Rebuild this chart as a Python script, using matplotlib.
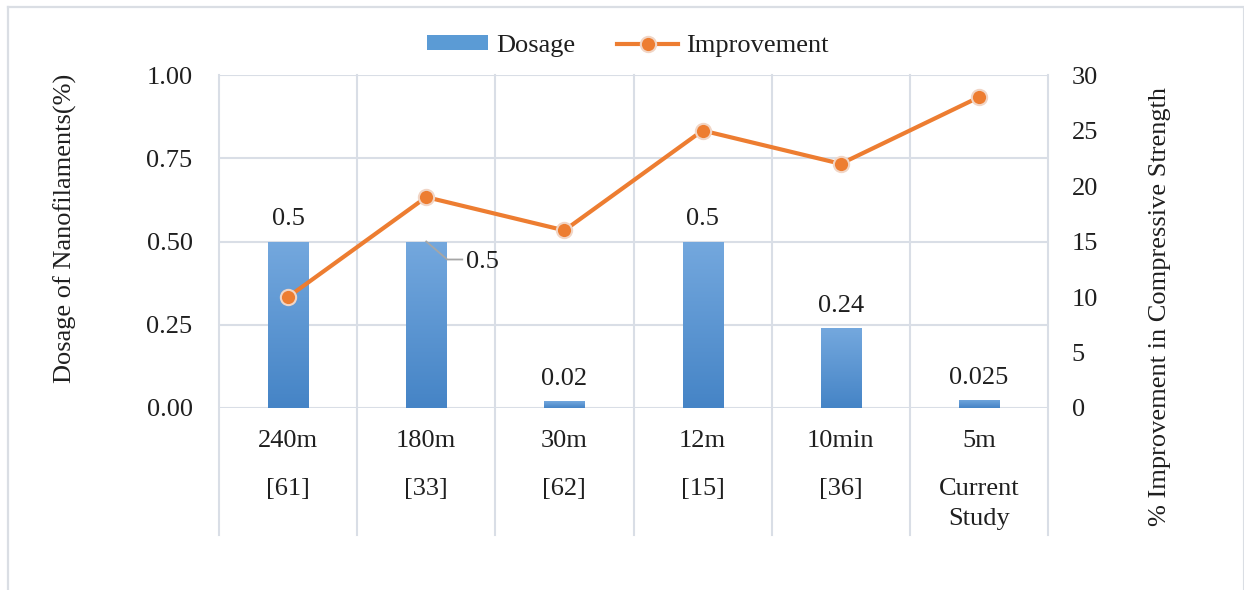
import matplotlib
matplotlib.use('Agg')
import matplotlib.pyplot as plt
import numpy as np
from matplotlib.lines import Line2D
from matplotlib.patches import Patch
from matplotlib.colors import LinearSegmentedColormap
import matplotlib.transforms as mtransforms

# Chart data
durations = ['240m', '180m', '30m', '12m', '10min', '5m']
sources = ['[61]', '[33]', '[62]', '[15]', '[36]', 'Current\nStudy']
dosage = [0.5, 0.5, 0.02, 0.5, 0.24, 0.025]
improvement = [10, 19, 16, 25, 22, 28]
left_ticks = [0.0, 0.25, 0.5, 0.75, 1.0]
right_ticks = [0, 5, 10, 15, 20, 25, 30]

plt.rcParams['font.family'] = ['Liberation Serif', 'DejaVu Serif']
FS = 19
TXT = '#1f1f1f'
GRID = '#D9DEE6'
BLUE = '#5B9BD5'
ORANGE = '#ED7D31'
MEC = '#F1D5C5'

W, H = 1244, 590
fig = plt.figure(figsize=(W / 100, H / 100), dpi=100)


def box(x0, y0, x1, y1):
    return [x0 / W, 1 - y1 / H, (x1 - x0) / W, (y1 - y0) / H]


ax = fig.add_axes(box(219, 75, 1048, 408))
ax2 = ax.twinx()
ax.set_zorder(1)
ax2.set_zorder(2)
ax2.patch.set_visible(False)

x = np.arange(len(durations))

# Bars with a vertical blue gradient
bars = ax.bar(x, dosage, width=0.29, color=BLUE, zorder=2)
cmap = LinearSegmentedColormap.from_list('bar_grad', ['#4584C6', '#74A8DE'])
grad = np.linspace(0, 1, 256).reshape(-1, 1)
for b in bars:
    x0, w, h = b.get_x(), b.get_width(), b.get_height()
    im = ax.imshow(grad, extent=[x0, x0 + w, 0, h], origin='lower',
                   cmap=cmap, aspect='auto', zorder=2.1)
    im.set_clip_path(b)

# Improvement line
ax2.plot(x, improvement, color=ORANGE, lw=3.0, marker='o', ms=11,
         mfc=ORANGE, mec=MEC, mew=1.5, zorder=3,
         solid_capstyle='round', solid_joinstyle='round')

ax.set_xlim(-0.5, len(durations) - 0.5)
ax.set_ylim(0, 1.0)
ax2.set_ylim(0, 30)
ax.set_yticks(left_ticks)
ax.set_yticklabels([f'{v:.2f}' for v in left_ticks])
ax2.set_yticks(right_ticks)
ax2.set_yticklabels([str(v) for v in right_ticks])
ax.set_xticks([])

for a in (ax, ax2):
    for s in a.spines.values():
        s.set_visible(False)
ax.tick_params(axis='y', length=0, pad=19, labelsize=FS, labelcolor=TXT)
ax2.tick_params(axis='y', length=0, pad=17, labelsize=FS, labelcolor=TXT)

# Horizontal gridlines
ax.yaxis.grid(True, color=GRID, lw=1.5, zorder=0)
ax.set_axisbelow(True)

# Category separators running down through the label rows
axis_h = 333.0
sep_bottom = -(535 - 408) / axis_h
for b in np.arange(-0.5, len(durations), 1.0):
    ax.add_line(Line2D([b, b], [sep_bottom, 1.0], transform=ax.get_xaxis_transform(),
                       color=GRID, lw=1.5, clip_on=False, zorder=0.5))

# Two-level category labels
xt = ax.get_xaxis_transform()
for i, (d, s) in enumerate(zip(durations, sources)):
    ax.text(i, -(441 - 408) / axis_h, d, transform=xt, ha='center', va='center',
            fontsize=FS, color=TXT)
    ax.text(i, -(478 - 408) / axis_h, s, transform=xt, ha='center', va='top',
            fontsize=FS, color=TXT, linespacing=1.45)

# Bar value labels
for i, v in enumerate(dosage):
    lab = f'{v:g}'
    if i == 1:
        # this label sits beside the bar with a leader line
        p = ax.transData.transform((i, v))
        pts = [(0, 0), (21, -18), (36, -18)]
        xs = [p[0] + dx for dx, dy in pts]
        ys = [p[1] + dy for dx, dy in pts]
        fig.add_artist(Line2D(xs, ys, transform=None, color='#A6A6A6', lw=1.3, zorder=5))
        ax.text(i, v, lab, transform=mtransforms.offset_copy(ax.transData, fig=fig,
                x=40, y=-20, units='dots'), ha='left', va='center',
                fontsize=FS, color=TXT, zorder=5)
    else:
        ax.annotate(lab, (i, v), xytext=(0, 8), textcoords='offset points',
                    ha='center', va='bottom', fontsize=FS, color=TXT, zorder=5)

# Axis titles
fig.text(65 / W, 1 - 228 / H, 'Dosage of Nanofilaments(%)', rotation=90,
         ha='center', va='center', fontsize=FS, color=TXT)
fig.text(1160 / W, 1 - 306 / H, '% Improvement in Compressive Strength', rotation=90,
         ha='center', va='center', fontsize=FS, color=TXT)

# Legend
handles = [Patch(facecolor=BLUE, edgecolor='none', label='Dosage'),
           Line2D([], [], color=ORANGE, lw=3.0, marker='o', ms=11, mfc=ORANGE,
                  mec=MEC, mew=1.5, label='Improvement')]
fig.legend(handles=handles, loc='center', bbox_to_anchor=(628 / W, 1 - 46 / H),
           ncol=2, frameon=False, fontsize=FS, handlelength=2.3, handleheight=0.5,
           handletextpad=0.3, columnspacing=1.6, labelcolor=TXT)

# Outer chart frame
frame_kw = dict(transform=fig.transFigure, color='#DADEE4', lw=1.6)
fig.add_artist(Line2D([8 / W, 8 / W], [0, 1 - 7 / H], **frame_kw))
fig.add_artist(Line2D([8 / W, 1242.5 / W], [1 - 7 / H, 1 - 7 / H], **frame_kw))
fig.add_artist(Line2D([1242.5 / W, 1242.5 / W], [0, 1 - 7 / H],
                      transform=fig.transFigure, color='#DADEE4', lw=0.8))

fig.savefig('out.png', dpi=100)
